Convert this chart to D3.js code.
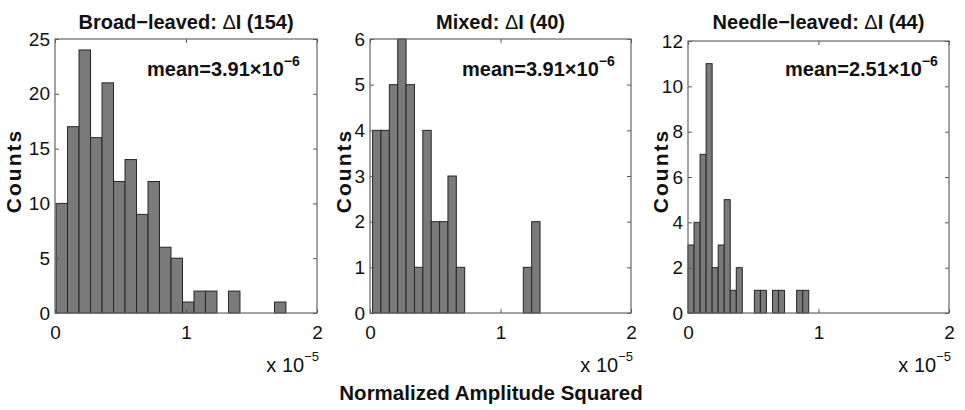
<!DOCTYPE html>
<html>
<head>
<meta charset="utf-8">
<script src="https://cdn.jsdelivr.net/npm/d3@7"></script>
<style>
  body { margin: 0; background: #fff; }
  text { font-family: "Liberation Sans", Arial, Helvetica, sans-serif; fill: #111; }
</style>
</head>
<body>
<div id="canvas"></div>
<script>
"use strict"

/* Histogram data (counts per bin, 20 bins each), x in units of 1e-5 */
let broadCounts = [10, 17, 24, 16, 21, 12, 14, 9, 12, 6, 5, 1, 2, 2, 0, 2, 0, 0, 0, 1];
let mixedCounts = [4, 4, 5, 6, 5, 1, 4, 2, 2, 3, 1, 0, 0, 0, 0, 0, 0, 0, 1, 2];
let needleCounts = [3, 4, 7, 11, 2, 3, 5, 1, 2, 0, 0, 1, 1, 0, 1, 1, 0, 0, 1, 1];

/* Data range covered by the bins (min, max) */
let broadRange = [0.008, 1.763];
let mixedRange = [0.02, 1.303];
let needleRange = [0, 0.925];

let panelTitles = ["Broad\u2212leaved: ", "Mixed: ", "Needle\u2212leaved: "];
let panelN = ["154", "40", "44"];
let panelMeans = ["3.91", "3.91", "2.51"];
let yMaxes = [25, 6, 12];
let yTickValues = [[0, 5, 10, 15, 20, 25], [0, 1, 2, 3, 4, 5, 6], [0, 2, 4, 6, 8, 10, 12]];
let xTickValues = [0, 1, 2];

/* Configuration variables: drawing */
let svgWidth = 965;
let svgHeight = 410;

let panels = [
    { left: 55, right: 317, top: 39, bottom: 313, counts: broadCounts, range: broadRange, meanX: 147, ylabX: 13 },
    { left: 370, right: 631, top: 39, bottom: 313, counts: mixedCounts, range: mixedRange, meanX: 462, ylabX: 343 },
    { left: 688, right: 949, top: 41, bottom: 313, counts: needleCounts, range: needleRange, meanX: 785, ylabX: 660 }
];

let svg = d3.select("#canvas")
    .append("svg")
    .attr("width", svgWidth)
    .attr("height", svgHeight);

panels.forEach(function (p, k) {
    let xScale = d3.scaleLinear()
        .domain([0, 2])
        .range([p.left, p.right]);

    let yScale = d3.scaleLinear()
        .domain([0, yMaxes[k]])
        .range([p.bottom, p.top]);

    let g = svg.append("g");

    /* bars */
    let binW = (p.range[1] - p.range[0]) / p.counts.length;
    let bins = p.counts.map(function (c, i) {
        return { x0: p.range[0] + i * binW, x1: p.range[0] + (i + 1) * binW, count: c };
    }).filter(function (d) { return d.count > 0; });

    g.selectAll("rect.bar")
        .data(bins)
        .join("rect")
        .attr("class", "bar")
        .attr("x", function (d) { return xScale(d.x0); })
        .attr("width", function (d) { return xScale(d.x1) - xScale(d.x0); })
        .attr("y", function (d) { return yScale(d.count); })
        .attr("height", function (d) { return yScale(0) - yScale(d.count); })
        .attr("fill", "#7a7a7a")
        .attr("stroke", "#262626")
        .attr("stroke-width", 1);

    /* axes, ticks pointing inward as in matlab */
    let axisStyle = function (sel) {
        sel.select(".domain").remove();
        sel.selectAll("line").attr("stroke", "#555");
        sel.selectAll("text")
            .style("font-size", "19px")
            .attr("fill", "#111");
    };

    g.append("g")
        .attr("transform", "translate(" + p.left + ",0)")
        .call(d3.axisLeft(yScale).tickValues(yTickValues[k]).tickFormat(d3.format("d")).tickSize(-4).tickPadding(5))
        .call(axisStyle);

    g.append("g")
        .attr("transform", "translate(" + p.right + ",0)")
        .call(d3.axisRight(yScale).tickValues(yTickValues[k]).tickSize(-4).tickFormat(""))
        .call(axisStyle);

    g.append("g")
        .attr("transform", "translate(0," + p.bottom + ")")
        .call(d3.axisBottom(xScale).tickValues(xTickValues).tickFormat(d3.format("d")).tickSize(-4).tickPadding(13))
        .call(axisStyle);

    g.append("g")
        .attr("transform", "translate(0," + p.top + ")")
        .call(d3.axisTop(xScale).tickValues(xTickValues).tickSize(-4).tickFormat(""))
        .call(axisStyle);

    /* box */
    g.append("rect")
        .attr("x", p.left)
        .attr("y", p.top)
        .attr("width", p.right - p.left)
        .attr("height", p.bottom - p.top)
        .attr("fill", "none")
        .attr("stroke", "#666")
        .attr("stroke-width", 1.2);

    /* title */
    let title = g.append("text")
        .attr("x", (p.left + p.right) / 2)
        .attr("y", 29)
        .attr("text-anchor", "middle")
        .style("font-size", "20px")
        .style("font-weight", "bold");
    title.append("tspan").text(panelTitles[k]);
    title.append("tspan").style("font-weight", "normal").text("\u0394");
    title.append("tspan").text("I (" + panelN[k] + ")");

    /* mean label */
    let mean = g.append("text")
        .attr("x", p.meanX)
        .attr("y", 76)
        .style("font-size", "20px")
        .style("font-weight", "bold");
    mean.append("tspan").text("mean=" + panelMeans[k] + "\u00d710");
    mean.append("tspan")
        .attr("dy", -10)
        .style("font-size", "14px")
        .text("\u22126");

    /* y label */
    g.append("text")
        .attr("transform", "translate(" + p.ylabX + "," + 171 + ") rotate(-90)")
        .attr("text-anchor", "middle")
        .attr("dominant-baseline", "central")
        .style("font-size", "21px")
        .style("letter-spacing", "2px")
        .style("font-weight", "bold")
        .text("Counts");

    /* exponent label */
    let expo = g.append("text")
        .attr("x", p.right + 2)
        .attr("y", 372)
        .attr("text-anchor", "end")
        .style("font-size", "20px");
    expo.append("tspan").text("x 10");
    expo.append("tspan")
        .attr("dy", -11)
        .style("font-size", "13px")
        .text("\u22125");
});

/* shared x label */
svg.append("text")
    .attr("x", 491)
    .attr("y", 400)
    .attr("text-anchor", "middle")
    .style("font-size", "20.5px")
    .style("font-weight", "bold")
    .text("Normalized Amplitude Squared");
</script>
</body>
</html>
